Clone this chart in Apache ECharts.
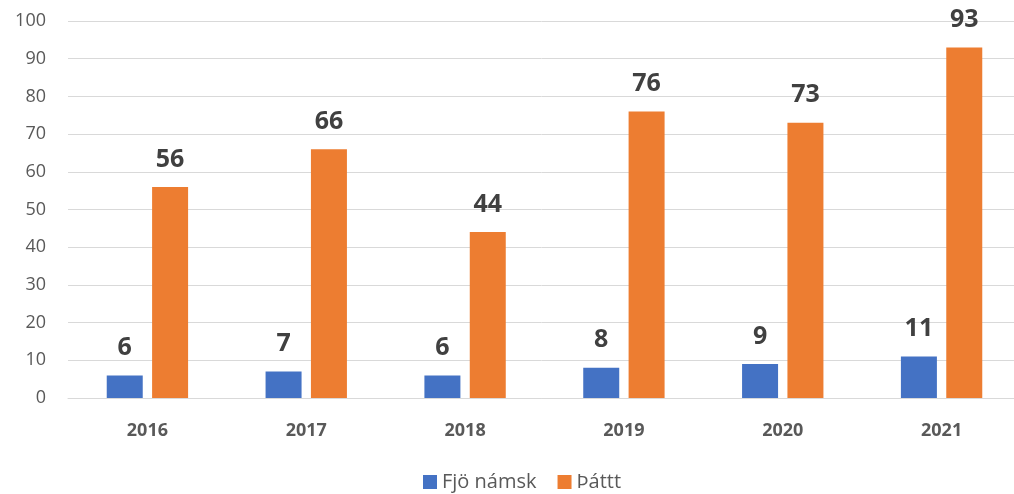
<!DOCTYPE html>
<html>
<head>
<meta charset="utf-8">
<script src="https://cdn.jsdelivr.net/npm/echarts@6/dist/echarts.min.js"></script>
<style>
html, body { margin: 0; padding: 0; background: #fff; }
#container { width: 1014px; height: 494px; }
</style>
</head>
<body>
<div id="container"></div>
<script>
var years = ['2016', '2017', '2018', '2019', '2020', '2021'];
var fjoNamsk = [6, 7, 6, 8, 9, 11];
var thattt = [56, 66, 44, 76, 73, 93];
var seriesNames = ['Fjö námsk', 'Þáttt'];

var dom = document.getElementById('container');
var myChart = echarts.init(dom, null, { renderer: 'canvas' });

var labelStyle = {
  show: true,
  position: 'top',
  distance: 15,
  fontFamily: 'Open Sans',
  fontSize: 25,
  fontWeight: 'bold',
  color: '#404040'
};

var option = {
  animation: false,
  textStyle: { fontFamily: 'Open Sans' },
  grid: { left: 68, width: 953, top: 21, bottom: 96, outerBoundsMode: 'none' },
  legend: {
    top: 472,
    left: 423,
    padding: 0,
    itemWidth: 14,
    itemHeight: 14,
    itemGap: 21,
    icon: 'rect',
    textStyle: { fontFamily: 'Open Sans', fontSize: 20, color: '#595959' },
    data: seriesNames
  },
  xAxis: {
    type: 'category',
    data: years,
    axisLine: { lineStyle: { color: '#d9d9d9', width: 1 } },
    axisTick: { show: false },
    axisLabel: { fontFamily: 'Open Sans', fontSize: 18, fontWeight: 'bold', color: '#595959', margin: 24 }
  },
  yAxis: {
    type: 'value',
    min: 0,
    max: 100,
    interval: 10,
    axisLine: { show: false },
    axisTick: { show: false },
    splitLine: { lineStyle: { color: '#d9d9d9', width: 1 } },
    axisLabel: { fontFamily: 'Open Sans', fontSize: 18, color: '#595959', margin: 22 }
  },
  series: [
    {
      name: seriesNames[0],
      type: 'bar',
      data: fjoNamsk,
      barWidth: 36,
      barGap: '26%',
      itemStyle: { color: '#4472c4' },
      label: labelStyle
    },
    {
      name: seriesNames[1],
      type: 'bar',
      data: thattt,
      barWidth: 36,
      barGap: '26%',
      itemStyle: { color: '#ed7d31' },
      label: labelStyle
    }
  ]
};

myChart.setOption(option);
window.addEventListener('resize', myChart.resize);
</script>
</body>
</html>
